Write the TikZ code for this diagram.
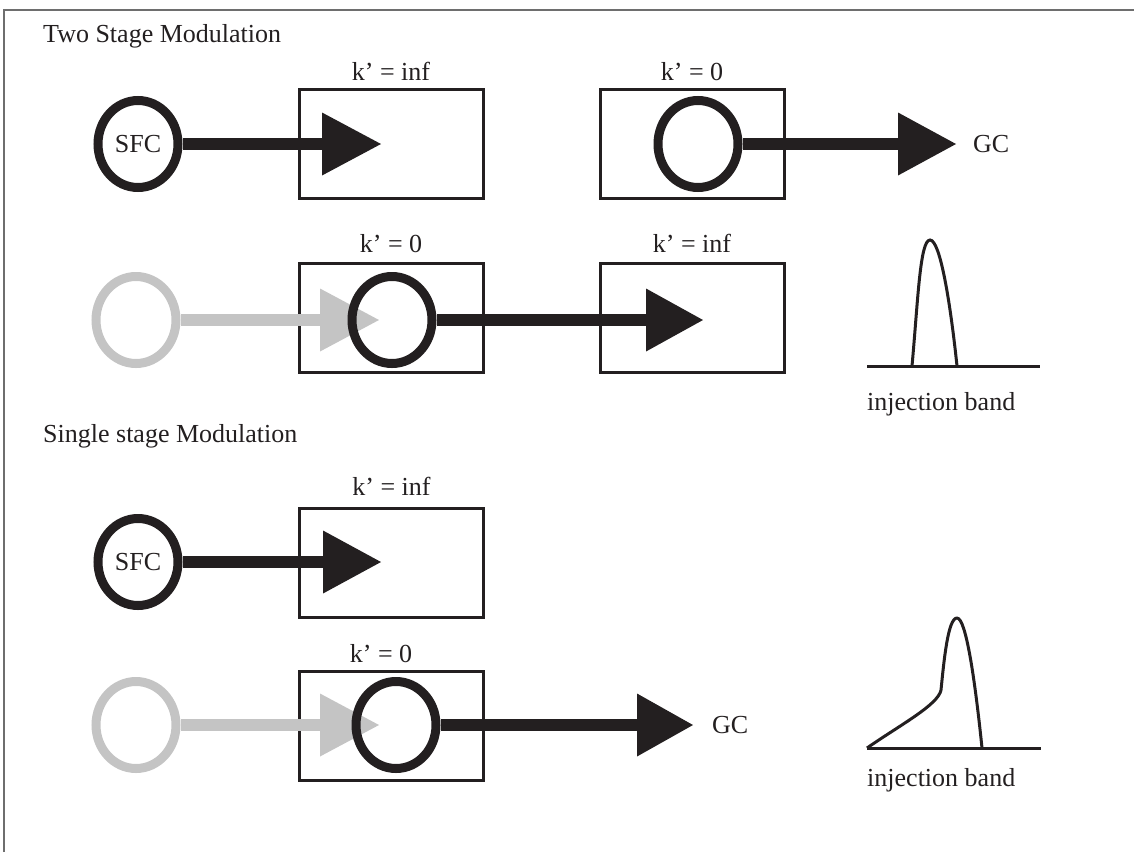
\documentclass[tikz,border=0pt]{standalone}
\usepackage{fontspec}
\setmainfont{Liberation Serif}
\usetikzlibrary{shapes.geometric}
\definecolor{ink}{RGB}{35,31,32}
\definecolor{faded}{RGB}{196,196,196}
\definecolor{framegrey}{RGB}{110,110,110}
\tikzset{
  txt/.style={inner sep=0pt, font=\fontsize{26}{31}\selectfont, text=ink},
  column/.style={draw=ink, line width=3pt, rectangle, minimum width=184pt, minimum height=109pt, inner sep=0pt},
  ring/.style={draw=ink, ellipse, line width=9pt, minimum width=80pt, minimum height=87pt, inner sep=0pt, font=\fontsize{26}{31}\selectfont, text=ink},
  ghostring/.style={ring, draw=faded},
  flow/.style={draw=ink, line width=12pt},
  ghostflow/.style={draw=faded, line width=12pt},
  peak/.style={draw=ink, line width=3pt},
}
\begin{document}
\begin{tikzpicture}[x=1pt, y=-1pt]
\useasboundingbox (0,0) rectangle (1134,852);
% page frame
\draw[framegrey, line width=1.5pt] (4,852) -- (4,10) -- (1134,10);

% ---------- Two stage modulation ----------
\node[txt, anchor=base west] (title1) at (43,42) {Two Stage Modulation};

% first stage: trapping
\node[column] (b1) at (391,144) {};
\node[txt, anchor=base] (k1) at (391,80) {k’ = inf};
\node[ring] (sfc1) at (138,144) {SFC};
\coordinate (h1) at (322,144);
\coordinate (t1) at (381,144);
\draw[flow] (sfc1.east) -- (h1);
\fill[ink] (t1) -- ++(-59,-31.5) -- ++(0,63) -- cycle;

% second column releasing to GC
\node[column] (b2) at (692,144) {};
\node[txt, anchor=base] (k2) at (692,80) {k’ = 0};
\node[ring] (rel1) at (698,144) {};
\node[txt, anchor=west] (gc1) at (973,144) {GC};
\coordinate (h2) at (898,144);
\coordinate (t2) at (956,144);
\draw[flow] (rel1.east) -- (h2);
\fill[ink] (t2) -- ++(-58,-31.5) -- ++(0,63) -- cycle;

% second row: transfer between stages
\node[column] (b3) at (391,318) {};
\node[txt, anchor=base] (k3) at (391,252) {k’ = 0};
\node[column] (b4) at (692,318) {};
\node[txt, anchor=base] (k4) at (692,252) {k’ = inf};
\node[ghostring] (g1) at (136,320) {};
\coordinate (h3) at (320,320);
\coordinate (t3) at (379,320);
\draw[ghostflow] (g1.east) -- (h3);
\fill[faded] (t3) -- ++(-59,-31.5) -- ++(0,63) -- cycle;
\node[ring] (mid1) at (392,320) {};
\coordinate (h4) at (646,320);
\coordinate (t4) at (703,320);
\draw[flow] (mid1.east) -- (h4);
\fill[ink] (t4) -- ++(-57,-31.5) -- ++(0,63) -- cycle;

% narrow injection band
\draw[peak] (867,366) -- (1040,366);
\draw[peak] (912,366) .. controls (918,300) and (920,240) .. (930,240)
  .. controls (940,240) and (950,300) .. (957,366);
\node[txt, anchor=base west] (inj1) at (867,410) {injection band};

% ---------- Single stage modulation ----------
\node[txt, anchor=base west] (title2) at (43,442) {Single stage Modulation};

\node[column] (b5) at (391.5,562.5) {};
\node[txt, anchor=base] (k5) at (391.5,495) {k’ = inf};
\node[ring] (sfc2) at (138,562) {SFC};
\coordinate (h5) at (323,562);
\coordinate (t5) at (381,562);
\draw[flow] (sfc2.east) -- (h5);
\fill[ink] (t5) -- ++(-58,-31.5) -- ++(0,63) -- cycle;

\node[column] (b6) at (391.5,726) {};
\node[txt, anchor=base] (k6) at (381,662) {k’ = 0};
\node[ghostring] (g2) at (136,725) {};
\coordinate (h6) at (320,725);
\coordinate (t6) at (379,725);
\draw[ghostflow] (g2.east) -- (h6);
\fill[faded] (t6) -- ++(-59,-31.5) -- ++(0,63) -- cycle;
\node[ring] (mid2) at (396,725) {};
\coordinate (h7) at (637,725);
\coordinate (t7) at (693,725);
\draw[flow] (mid2.east) -- (h7);
\fill[ink] (t7) -- ++(-56,-31.5) -- ++(0,63) -- cycle;
\node[txt, anchor=west] (gc2) at (712,725) {GC};

% tailing injection band
\draw[peak] (867,748) -- (1041,748);
\draw[peak, line join=round] (867,748) .. controls (900,725) and (938,705) .. (941,690)
  .. controls (944,660) and (948,618) .. (957,618)
  .. controls (966,618) and (975,680) .. (982,748);
\node[txt, anchor=base west] (inj2) at (867,786) {injection band};
\end{tikzpicture}
\end{document}
